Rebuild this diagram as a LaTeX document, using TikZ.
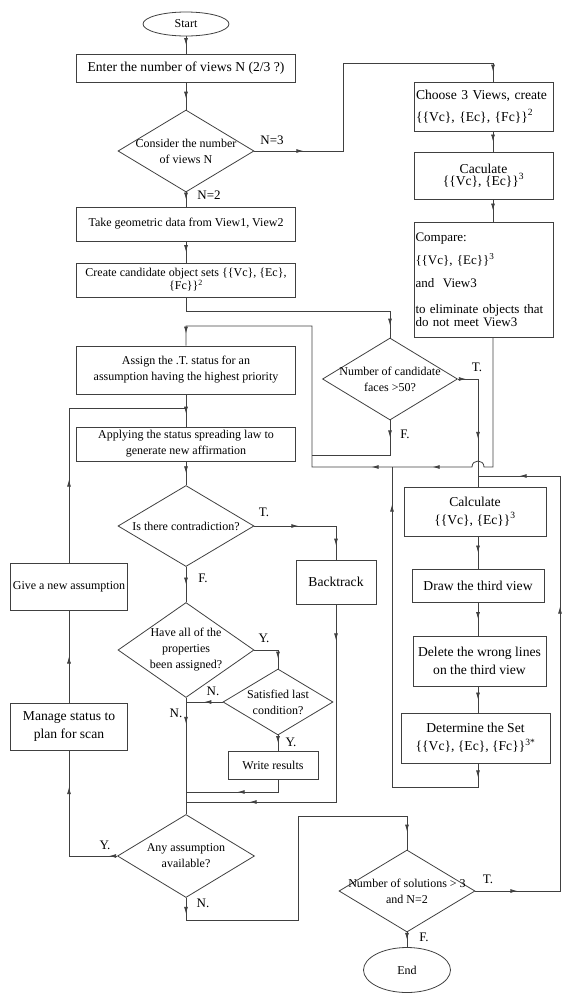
\documentclass[tikz,border=0pt]{standalone}
\usepackage{fontspec}
\setmainfont{Liberation Serif}
\usetikzlibrary{shapes.geometric, arrows.meta, decorations.markings}
\newcommand{\smallfs}{\fontsize{12}{16}\selectfont}
\newcommand{\bigfs}{\fontsize{13.6}{18}\selectfont}

\begin{document}
\begin{tikzpicture}[x=1pt, y=-1pt, line width=0.8pt,
        box/.style={draw=black!75, rectangle, inner sep=1pt, align=center, font=\smallfs},
        bigbox/.style={box, font=\bigfs},
        dec/.style={draw=black!75, diamond, aspect=2, inner sep=-12pt, align=center, font=\smallfs},
        term/.style={draw=black!75, ellipse, inner sep=0pt, font=\smallfs},
        lbl/.style={inner sep=0pt, font=\fontsize{13}{15}\selectfont},
        flow/.style={draw=black!75},
        tipat/.style={postaction={decorate, decoration={markings,
            mark=at position #1 with {\arrow{Latex[length=7pt, width=4pt]}}}}}]

        \useasboundingbox (0, 0) rectangle (572, 1002);

        \node[term, minimum width=86, minimum height=24] (start) at (186, 24) {Start};
        \node[bigbox, minimum width=219, minimum height=28] (enter) at (186, 68) {Enter the number of views N (2/3 ?)};
        \node[dec, minimum width=136, minimum height=82] (consider) at (186, 151) {Consider the number\\of views N};
        \node[box, minimum width=219, minimum height=34] (take) at (186, 224) {Take geometric data from View1, View2};
        \node[box, minimum width=219, minimum height=34] (create) at (186, 280) {Create candidate object sets \{\{Vc\}, \{Ec\},\\[-3pt]\{Fc\}\}\textsuperscript{2}};
        \node[box, minimum width=219, minimum height=48] (assign) at (186, 370) {Assign the .T. status for an\\assumption having the highest priority};
        \node[box, minimum width=219, minimum height=34] (apply) at (186, 444) {Applying the status spreading law to\\generate new affirmation};
        \node[dec, minimum width=136, minimum height=81] (contra) at (186, 526) {Is there contradiction?};
        \node[dec, minimum width=136, minimum height=95] (haveall) at (186, 650) {Have all of the\\properties\\been assigned?};
        \node[dec, minimum width=137, minimum height=83] (anyass) at (186, 856) {Any assumption\\available?};
        \node[box, minimum width=117, minimum height=47] (give) at (69, 586.5) {Give a new assumption};
        \node[bigbox, minimum width=117, minimum height=47] (manage) at (69, 726.5) {Manage status to\\plan for scan};
        \node[dec, minimum width=110, minimum height=66] (satisfied) at (278, 702) {Satisfied last\\condition?};
        \node[box, minimum width=90, minimum height=28] (write) at (273, 765) {Write results};
        \node[bigbox, minimum width=80, minimum height=44] (backtrack) at (336, 582) {Backtrack};
        \node[dec, minimum width=135, minimum height=82] (candfaces) at (390, 379) {Number of candidate\\faces >50?};

        \node[bigbox, minimum width=139, minimum height=49, text width=135pt, align=left] (choose) at (483.5, 106.5) {Choose 3 Views, create\\[4pt]\{\{Vc\}, \{Ec\}, \{Fc\}\}\textsuperscript{2}};
        \node[bigbox, minimum width=139, minimum height=47] (caculate) at (483.5, 175.5) {Caculate\\[-6pt]\{\{Vc\}, \{Ec\}\}\textsuperscript{3}};
        \node[bigbox, minimum width=139, minimum height=115, text width=136pt, align=left, font=\fontsize{13}{18}\selectfont] (compare) at (483.5, 279.5) {Compare:\\[5pt]\{\{Vc\}, \{Ec\}\}\textsuperscript{3}\\[5pt]and~~View3\\[8pt]to eliminate objects that\\[-5pt]do not meet View3};
        \node[bigbox, minimum width=142, minimum height=49] (calc2) at (475, 511.5) {Calculate\\\{\{Vc\}, \{Ec\}\}\textsuperscript{3}};
        \node[bigbox, minimum width=132, minimum height=33] (draw3) at (478, 585.5) {Draw the third view};
        \node[bigbox, minimum width=133, minimum height=50] (delete) at (479.5, 661) {Delete the wrong lines\\on the third view};
        \node[bigbox, minimum width=149, minimum height=50] (determine) at (475.5, 738) {Determine the Set\\\{\{Vc\}, \{Ec\}, \{Fc\}\}\textsuperscript{3*}};
        \node[dec, minimum width=136, minimum height=82] (nsol) at (407, 891) {Number of solutions > 3\\and N=2};
        \node[term, minimum width=87, minimum height=45] (stop) at (407, 970) {End};

        \node[lbl] (lN3) at (272, 140) {N=3};
        \node[lbl] (lN2) at (209, 195) {N=2};
        \node[lbl] (lT1) at (477, 367) {T.};
        \node[lbl] (lF1) at (405, 434) {F.};
        \node[lbl] (lT2) at (264, 512) {T.};
        \node[lbl] (lF2) at (203, 578) {F.};
        \node[lbl] (lY1) at (264, 638) {Y.};
        \node[lbl] (lN4) at (213, 691) {N.};
        \node[lbl] (lN5) at (176, 713) {N.};
        \node[lbl] (lY2) at (291, 742) {Y.};
        \node[lbl] (lY3) at (105, 845) {Y.};
        \node[lbl] (lN6) at (203, 903) {N.};
        \node[lbl] (lT3) at (488, 879) {T.};
        \node[lbl] (lF3) at (424, 937) {F.};

        \coordinate (rc) at (493, 0);
        \coordinate (rc2) at (478, 0);
        \coordinate (n3turn) at (343, 63);
        \coordinate (c1) at (186, 311);
        \coordinate (cmpturn) at (493, 467);
        \coordinate (jumpR) at (484, 467);
        \coordinate (jumpL) at (472, 467);
        \coordinate (loopB) at (312, 467);
        \coordinate (loopT) at (312, 326);
        \coordinate (aTop) at (186, 326);
        \coordinate (fjoin) at (312, 455);
        \coordinate (gj) at (186, 408);
        \coordinate (wj) at (186, 792);
        \coordinate (bj) at (186, 802);
        \coordinate (na) at (186, 920);
        \coordinate (nb) at (298, 816);
        \coordinate (tr) at (560, 476);
        \coordinate (tj) at (478, 476);
        \coordinate (dj) at (392, 787);
        \coordinate (dk) at (392, 467);

        \draw[flow, tipat=0.5] (start) -- (enter);
        \draw[flow, tipat=0.6] (enter) -- (consider);
        \draw[flow, tipat=49pt, tipat=-10pt] (consider.east) -| (n3turn) -| (choose.north -| rc);
        \draw[flow, tipat=0.5] (consider) -- (take);
        \draw[flow, tipat=0.5] (take) -- (create);
        \draw[flow, tipat=-12pt] (create.south) -- (c1) -| (candfaces.north);
        \draw[flow, tipat=0.5] (choose.south -| rc) -- (caculate.north -| rc);
        \draw[flow, tipat=0.5] (caculate.south -| rc) -- (compare.north -| rc);
        \draw[flow, tipat=8pt, tipat=80pt] (candfaces.east) -| (calc2.north -| rc2);
        \draw[flow, tipat=197pt, tipat=258pt, tipat=-12pt] (compare.south -| rc) -- (cmpturn) -- (jumpR)
            .. controls +(0,-8) and +(0,-8) .. (jumpL) -- (loopB) -- (loopT) -- (aTop) -- (assign.north);
        \draw[flow, tipat=17pt] (candfaces.south) |- (fjoin);
        \draw[flow, tipat=0.6] (assign) -- (apply);
        \draw[flow, tipat=0.5] (apply) -- (contra);
        \draw[flow, tipat=44pt, tipat=-14pt] (contra.east) -| (backtrack.north);
        \draw[flow, tipat=0.5] (contra) -- (haveall);
        \draw[flow, tipat=-10pt] (haveall.east) -| (satisfied.north);
        \draw[flow, tipat=0.5] (satisfied.west) -- (satisfied.west -| haveall.south);
        \draw[flow, tipat=26pt] (haveall) -- (anyass);
        \draw[flow, tipat=0.5] (satisfied.south) -- (satisfied.south |- write.north);
        \draw[flow, tipat=53pt] (write.south -| satisfied.south) |- (wj);
        \draw[flow, tipat=36pt, tipat=284pt] (backtrack.south) |- (bj);
        \draw[flow, tipat=8pt, tipat=117pt] (anyass.west) -| (manage.south);
        \draw[flow, tipat=0.5] (manage) -- (give);
        \draw[flow, tipat=83pt] (give.north) |- (gj);
        \draw[flow, tipat=16pt, tipat=-18pt] (anyass.south) -- (na) -| (nb) -| (nsol.north);
        \draw[flow, tipat=42pt, tipat=369pt, tipat=540pt] (nsol.east) -| (tr) -- (tj);
        \draw[flow, tipat=0.5] (nsol) -- (stop);
        \draw[flow, tipat=0.5] (calc2.south -| rc2) -- (draw3.north -| rc2);
        \draw[flow, tipat=0.5] (draw3.south -| rc2) -- (delete.north -| rc2);
        \draw[flow, tipat=0.5] (delete.south -| rc2) -- (determine.north -| rc2);
        \draw[flow, tipat=14pt, tipat=392pt] (determine.south -| rc2) |- (dj) -- (dk);

\end{tikzpicture}
\end{document}
